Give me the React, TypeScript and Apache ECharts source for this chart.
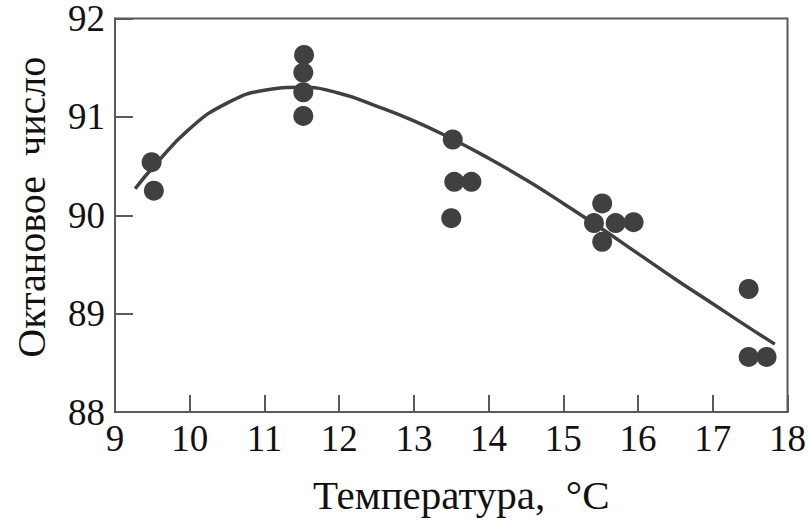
import React, { useEffect, useRef } from "react";
import * as echarts from "echarts";

const xTicks = [9, 10, 11, 12, 13, 14, 15, 16, 17, 18];
const yTicks = [88, 89, 90, 91, 92];

const pointTemps = [9.49, 9.52, 11.53, 11.52, 11.52, 11.52, 13.52, 13.54, 13.77, 13.5, 15.52, 15.41, 15.7, 15.94, 15.52, 17.48, 17.48, 17.72];
const pointOctane = [90.54, 90.25, 91.63, 91.45, 91.25, 91.01, 90.77, 90.34, 90.34, 89.97, 90.12, 89.92, 89.92, 89.93, 89.73, 89.25, 88.56, 88.56];

const curveTemps = [9.27, 9.5, 10.0, 10.5, 11.0, 11.5, 12.0, 12.5, 13.0, 13.5, 14.0, 14.5, 15.0, 15.5, 16.0, 16.5, 17.0, 17.5, 17.83];
const curveOctane = [90.27, 90.48, 90.88, 91.14, 91.27, 91.3, 91.24, 91.11, 90.96, 90.78, 90.58, 90.36, 90.12, 89.87, 89.61, 89.35, 89.1, 88.85, 88.69];

const FONT = "'Liberation Serif', 'Times New Roman', serif";
const INK = "#404040";

export default function App() {
  const ref = useRef<HTMLDivElement>(null);
  useEffect(() => {
    if (!ref.current) return;
    const chart = echarts.init(ref.current, undefined, { renderer: "svg" });
    chart.setOption({
      animation: false,
      backgroundColor: "#ffffff",
      grid: {
        left: 115,
        top: 15,
        right: 20,
        bottom: 109,
        show: true,
        borderColor: "#5a5a5a",
        borderWidth: 2,
        backgroundColor: "transparent",
      },
      xAxis: {
        type: "value",
        min: xTicks[0],
        max: xTicks[xTicks.length - 1],
        interval: 1,
        name: "Температура,  °C",
        nameLocation: "middle",
        nameGap: 62,
        nameTextStyle: { fontFamily: FONT, fontSize: 41, color: "#111", padding: [0, 0, 0, 20] },
        axisLine: { show: true, lineStyle: { color: "#5a5a5a", width: 2 } },
        axisTick: { show: true, inside: true, length: 17, lineStyle: { color: "#5a5a5a", width: 2 } },
        axisLabel: { fontFamily: FONT, fontSize: 37, lineHeight: 28, color: "#111", margin: 12 },
        splitLine: { show: false },
      },
      yAxis: {
        type: "value",
        min: yTicks[0],
        max: yTicks[yTicks.length - 1],
        interval: 1,
        name: "Октановое  число",
        nameLocation: "middle",
        nameGap: 64,
        nameTextStyle: { fontFamily: FONT, fontSize: 40, color: "#111", padding: [0, 0, 0, 16] },
        axisLine: { show: true, lineStyle: { color: "#5a5a5a", width: 2 } },
        axisTick: { show: true, inside: true, length: 18, lineStyle: { color: "#5a5a5a", width: 2 } },
        axisLabel: { fontFamily: FONT, fontSize: 37, lineHeight: 28, color: "#111", margin: 10 },
        splitLine: { show: false },
      },
      series: [
        {
          type: "line",
          data: curveTemps.map((t, i) => [t, curveOctane[i]]),
          smooth: 0.5,
          showSymbol: false,
          lineStyle: { color: INK, width: 3.5 },
          z: 2,
        },
        {
          type: "scatter",
          data: pointTemps.map((t, i) => [t, pointOctane[i]]),
          symbol: "circle",
          symbolSize: 20,
          itemStyle: { color: INK, opacity: 1 },
          z: 3,
        },
      ],
    });
    return () => chart.dispose();
  }, []);
  return (
    <div
      ref={ref}
      style={{ position: "fixed", left: 0, top: 0, width: 809, height: 521, background: "#fff" }}
    />
  );
}
